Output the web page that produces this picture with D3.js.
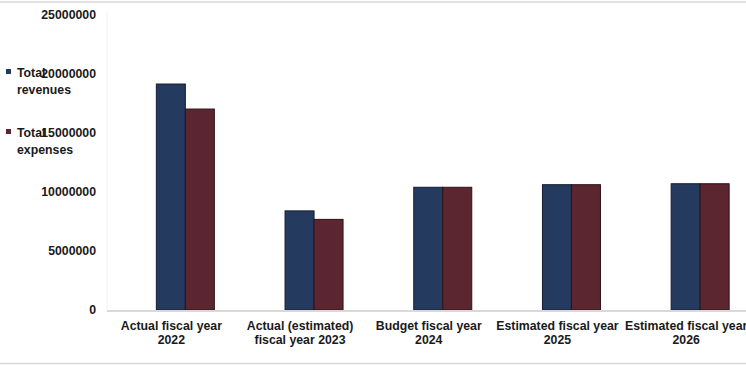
<!DOCTYPE html>
<html>
<head>
<meta charset="utf-8">
<script src="https://cdn.jsdelivr.net/npm/d3@7/dist/d3.min.js"></script>
<style>
  html, body { margin: 0; padding: 0; background: #fff; }
  svg { display: block; font-family: "Liberation Sans", Arial, sans-serif; }
</style>
</head>
<body>
<svg id="chart" width="746" height="366"></svg>
<script>
// Fiscal periods on the category axis
const categories = [
  ["Actual fiscal year", "2022"],
  ["Actual (estimated)", "fiscal year 2023"],
  ["Budget fiscal year", "2024"],
  ["Estimated fiscal year", "2025"],
  ["Estimated fiscal year", "2026"]
];
const categoryKeys = ["FY2022", "FY2023", "FY2024", "FY2025", "FY2026"];

// Series values
const totalRevenues = [19150000, 8400000, 10400000, 10620000, 10700000];
const totalExpenses = [17030000, 7680000, 10400000, 10620000, 10700000];

const seriesNames = [["Total", "revenues"], ["Total", "expenses"]];
const yTicks = [0, 5000000, 10000000, 15000000, 20000000, 25000000];

const colors = ["#243a5f", "#5c2630"];
const strokes = ["#131c33", "#2e1217"];
const FONT = "Liberation Sans, Arial, sans-serif";
const FS = 12.3;

const svg = d3.select("#chart");
const W = 746, H = 366;

// light frame around the chart
svg.append("line").attr("x1", 0).attr("x2", W).attr("y1", 2).attr("y2", 2)
  .attr("stroke", "#d8d8d8").attr("stroke-width", 1.5);
svg.append("line").attr("x1", 0).attr("x2", W).attr("y1", 363.5).attr("y2", 363.5)
  .attr("stroke", "#d8d8d8").attr("stroke-width", 1.5);

const plot = { left: 107, top: 15, bottom: 310 };
const step = 128.7;

const x = d3.scaleBand()
  .domain(categoryKeys)
  .range([plot.left, plot.left + step * categoryKeys.length])
  .padding(0);

const y = d3.scaleLinear()
  .domain([0, 25000000])
  .range([plot.bottom, plot.top]);

// faint left edge of the plot area
svg.append("line")
  .attr("x1", plot.left).attr("x2", plot.left)
  .attr("y1", 12).attr("y2", plot.bottom)
  .attr("stroke", "#f0f0f0").attr("stroke-width", 1);

// y axis labels
const yAxis = d3.axisLeft(y).tickValues(yTicks).tickSize(0).tickPadding(0)
  .tickFormat(d => String(d));
const gy = svg.append("g").attr("transform", `translate(96,0)`).call(yAxis);
gy.select(".domain").remove();
gy.selectAll("text")
  .attr("font-size", FS).attr("font-weight", "bold").attr("fill", "#1a1a1a")
  .attr("font-family", FONT);

// bars: each pair sits slightly right of its band centre
const barW = 29, shift = 14;
const series = [totalRevenues, totalExpenses];
series.forEach((vals, si) => {
  svg.append("g").selectAll("rect")
    .data(vals)
    .join("rect")
    .attr("x", (d, i) => x(categoryKeys[i]) + x.bandwidth() / 2 + shift - barW + si * barW)
    .attr("y", d => y(d))
    .attr("width", barW)
    .attr("height", d => y(0) - y(d))
    .attr("fill", colors[si])
    .attr("stroke", strokes[si])
    .attr("stroke-width", 1);
});

// baseline
svg.append("line")
  .attr("x1", plot.left).attr("x2", W)
  .attr("y1", plot.bottom + 1).attr("y2", plot.bottom + 1)
  .attr("stroke", "#d9d9d9").attr("stroke-width", 2);

// category labels
const xAxis = d3.axisBottom(x).tickSize(0).tickFormat(() => "");
const gx = svg.append("g").attr("transform", `translate(0,${plot.bottom})`).call(xAxis);
gx.select(".domain").remove();
gx.selectAll(".tick").each(function (d, i) {
  const t = d3.select(this).append("text")
    .attr("text-anchor", "middle")
    .attr("font-size", FS).attr("font-weight", "bold").attr("fill", "#1a1a1a")
    .attr("font-family", FONT);
  categories[i].forEach((line, li) => {
    t.append("tspan").attr("x", 0).attr("y", 20 + li * 14).text(line);
  });
});

// legend, overlapping the axis labels on the left
const legendY = [73, 133];
seriesNames.forEach((lines, si) => {
  const g = svg.append("g").attr("transform", `translate(6,${legendY[si]})`);
  g.append("rect").attr("x", 0).attr("y", -4).attr("width", 5).attr("height", 5)
    .attr("fill", colors[si]);
  const t = g.append("text")
    .attr("font-size", FS).attr("font-weight", "bold").attr("fill", "#1a1a1a")
    .attr("font-family", FONT);
  t.append("tspan").attr("x", 11).attr("y", 4).text(lines[0]);
  t.append("tspan").attr("x", 11).attr("y", 21).text(lines[1]);
});
</script>
</body>
</html>
